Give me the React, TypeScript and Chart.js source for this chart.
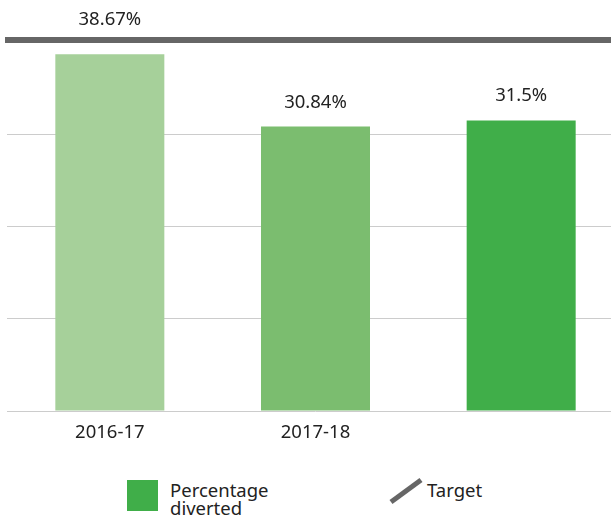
import React, { useEffect, useRef } from "react";
import { Chart, registerables } from "chart.js";

Chart.register(...registerables);

const categories = ["2016-17", "2017-18", ""];
const diverted = [38.67, 30.84, 31.5];
const valueLabels = ["38.67%", "30.84%", "31.5%"];
const target = 40;
const barColors = ["#a6d09a", "#7bbd6f", "#40ae49"];
const legendColor = "#40ae49";
const targetColor = "#666666";
const FONT = "'Noto Sans', 'DejaVu Sans', sans-serif";

const targetPlugin = {
  id: "targetLine",
  afterDatasetsDraw(chart: any) {
    const yScale = chart.scales.y;
    const { left, right } = chart.chartArea;
    const y = yScale.getPixelForValue(target);
    const ctx = chart.ctx;
    ctx.save();
    ctx.strokeStyle = targetColor;
    ctx.lineWidth = 6;
    ctx.beginPath();
    ctx.moveTo(left - 2, y - 2);
    ctx.lineTo(right, y - 2);
    ctx.stroke();
    ctx.restore();
  },
};

const labelPlugin = {
  id: "valueLabels",
  afterDatasetsDraw(chart: any) {
    const meta = chart.getDatasetMeta(0);
    const yScale = chart.scales.y;
    const ctx = chart.ctx;
    ctx.save();
    ctx.font = `18.5px ${FONT}`;
    ctx.fillStyle = "#222222";
    ctx.textAlign = "center";
    ctx.textBaseline = "alphabetic";
    const tY = yScale.getPixelForValue(target);
    meta.data.forEach((bar: any, i: number) => {
      let base = bar.y - 19;
      if (base < tY + 18) base = tY - 17;
      ctx.fillText(valueLabels[i], bar.x, base);
    });
    ctx.restore();
  },
};

export default function App() {
  const ref = useRef<HTMLCanvasElement>(null);
  useEffect(() => {
    if (!ref.current) return;
    const chart = new Chart(ref.current, {
      type: "bar",
      data: {
        labels: categories,
        datasets: [
          {
            label: "Percentage diverted",
            data: diverted,
            backgroundColor: barColors,
            barPercentage: 0.53,
            categoryPercentage: 1,
          },
        ],
      },
      options: {
        animation: false,
        responsive: false,
        maintainAspectRatio: false,
        layout: { padding: { left: 7, top: 42, right: 0, bottom: 0 } },
        plugins: {
          legend: { display: false },
          tooltip: { enabled: false },
        },
        scales: {
          x: {
            type: "category",
            offset: true,
            grid: { display: false, drawTicks: false },
            border: { display: false },
            ticks: {
              color: "#222222",
              font: { family: FONT, size: 18.5 },
              padding: 11,
              maxRotation: 0,
            },
            afterFit(scale: any) {
              scale.height = 29;
            },
          },
          y: {
            min: 0,
            max: 40,
            ticks: { display: false, stepSize: 10 },
            grid: { color: "#cccccc", lineWidth: 1, drawTicks: false },
            border: { display: false },
          },
        },
      } as any,
      plugins: [targetPlugin, labelPlugin],
    });
    return () => chart.destroy();
  }, []);

  const textStyle: React.CSSProperties = {
    position: "absolute",
    fontFamily: FONT,
    fontSize: "18.5px",
    lineHeight: "18px",
    color: "#222222",
    whiteSpace: "nowrap",
  };

  return (
    <div
      style={{
        position: "fixed",
        left: 0,
        top: 0,
        width: 611,
        height: 523,
        overflow: "hidden",
        background: "#ffffff",
      }}
    >
      <canvas
        ref={ref}
        width={624}
        height={440}
        style={{ position: "absolute", left: 0, top: 0, width: 624, height: 440 }}
      />
      <div
        style={{
          position: "absolute",
          left: 127,
          top: 480,
          width: 31,
          height: 31,
          background: legendColor,
        }}
      />
      <div style={{ ...textStyle, left: 170, top: 481 }}>
        Percentage
        <br />
        diverted
      </div>
      <svg
        width={40}
        height={30}
        style={{ position: "absolute", left: 386, top: 476 }}
      >
        <line x1={5} y1={26} x2={35} y2={4} stroke={targetColor} strokeWidth={5} />
      </svg>
      <div style={{ ...textStyle, left: 427, top: 481 }}>Target</div>
    </div>
  );
}
